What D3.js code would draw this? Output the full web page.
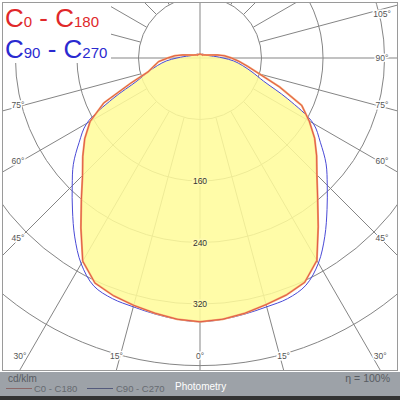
<!DOCTYPE html>
<html>
<head>
<meta charset="utf-8">
<script src="https://cdn.jsdelivr.net/npm/d3@7"></script>
<style>
  body { margin: 0; background: #fff; }
  svg { display: block; font-family: "Liberation Sans", Arial, sans-serif; }
</style>
</head>
<body>
<svg id="chart" width="400" height="400"></svg>
<script>
// gamma angles (0 = nadir), cd/klm values per half plane
var angles = [0, 5, 10, 15, 20, 25, 30, 35, 40, 45, 50, 55, 60, 65, 70, 75, 80, 85, 90,
              95, 100, 105, 110, 115, 120, 125, 130, 135, 140, 145, 150, 155, 160, 165, 170, 175, 180];
var c0   = [343, 341, 337, 332, 328, 322, 304, 268, 238, 215, 198, 182, 164, 146, 110, 80, 63, 51, 41,
            32, 23, 15, 11, 9, 8, 7, 6, 6, 5, 5, 5, 5, 5, 5, 5, 5, 5];
var c180 = [343, 341, 337, 333, 329, 323, 305, 270, 240, 216, 199, 183, 165, 138, 96, 70, 61, 54, 42,
            33, 23, 15, 11, 9, 8, 7, 6, 6, 5, 5, 5, 5, 5, 5, 5, 5, 5];
var c90  = [343, 341, 338, 335, 333, 326, 308, 283, 257, 234, 214, 191, 170, 126, 88, 70, 56, 44, 30,
            21, 15, 12, 10, 9, 8, 7, 7, 6, 6, 6, 6, 5, 5, 5, 5, 5, 5];
var c270 = [343, 341, 338, 335, 333, 327, 309, 284, 258, 235, 215, 192, 170, 125, 87, 70, 56, 44, 30,
            21, 15, 12, 10, 9, 8, 7, 7, 6, 6, 6, 6, 5, 5, 5, 5, 5, 5];

var rings = [80, 160, 240, 320, 400];
var ringLabels = [160, 240, 320];
var spokes = [0, 15, 30, 45, 60, 75, 90, 105, 120, 135, 150, 165, 180,
              195, 210, 225, 240, 255, 270, 285, 300, 315, 330, 345];
var rightLabels = [0, 15, 30, 45, 60, 75, 90, 105];
var leftLabels = [15, 30, 45, 60, 75];

var svg = d3.select("#chart"),
    cx = 200, cy = 58;

var r = d3.scaleLinear().domain([0, 400]).range([0, 307.6]);
function rad(d) { return d * Math.PI / 180; }

var defs = svg.append("defs");
defs.append("clipPath").attr("id", "frameClip")
  .append("rect").attr("x", 3).attr("y", 3).attr("width", 394).attr("height", 367);

svg.append("rect").attr("width", 400).attr("height", 400).attr("fill", "#fff");
svg.append("rect")
  .attr("x", 2.5).attr("y", 2.5).attr("width", 395).attr("height", 368)
  .attr("fill", "#fff").attr("stroke", "#9a9a9a");

var g = svg.append("g").attr("clip-path", "url(#frameClip)");
var pg = g.append("g").attr("transform", "translate(" + cx + "," + cy + ")");

// grid
pg.selectAll(".ring").data(rings).enter().append("circle")
  .attr("class", "ring")
  .attr("r", function(d) { return r(d); })
  .attr("fill", "none").attr("stroke", "#858585").attr("stroke-width", 1);

pg.selectAll(".spoke").data(spokes).enter().append("line")
  .attr("class", "spoke")
  .attr("x1", function(d) { return (d % 90 === 0 ? 0 : r(80)) * Math.sin(rad(d)); })
  .attr("y1", function(d) { return (d % 90 === 0 ? 0 : r(80)) * Math.cos(rad(d)); })
  .attr("x2", function(d) { return r(600) * Math.sin(rad(d)); })
  .attr("y2", function(d) { return r(600) * Math.cos(rad(d)); })
  .attr("stroke", "#858585").attr("stroke-width", 1);

// outlines
function outline(right, left) {
  var a = angles.map(function(d, i) { return [Math.PI - rad(d), r(right[i])]; });
  var b = angles.map(function(d, i) { return [rad(d) - Math.PI, r(left[i])]; }).reverse();
  return a.concat(b.slice(1, -1));
}
var redLine = d3.lineRadial().angle(function(d) { return d[0]; }).radius(function(d) { return d[1]; })
  .curve(d3.curveLinearClosed);
var blueLine = d3.lineRadial().angle(function(d) { return d[0]; }).radius(function(d) { return d[1]; })
  .curve(d3.curveCatmullRomClosed);

var redPts = outline(c0, c180),
    bluePts = outline(c90, c270);

defs.append("clipPath").attr("id", "blueClip")
  .append("path").attr("d", blueLine(bluePts));

pg.append("path")
  .attr("d", redLine(redPts))
  .attr("fill", "#fffb9a").attr("fill-opacity", 0.86)
  .attr("clip-path", "url(#blueClip)");

pg.append("path").attr("d", blueLine(bluePts))
  .attr("fill", "none").attr("stroke", "#4a4ad6").attr("stroke-width", 1);
pg.append("path").attr("d", redLine(redPts))
  .attr("fill", "none").attr("stroke", "#f3a56a").attr("stroke-width", 2);
pg.append("path").attr("d", redLine(redPts))
  .attr("fill", "none").attr("stroke", "#d83a3a").attr("stroke-width", 0.7);

// intensity labels
pg.selectAll(".rlab").data(ringLabels).enter().append("text")
  .attr("x", 0).attr("y", function(d) { return r(d); })
  .attr("text-anchor", "middle").attr("dominant-baseline", "central")
  .attr("font-size", 8.5).attr("fill", "#333")
  .attr("stroke", "#fffbb0").attr("stroke-width", 3).attr("paint-order", "stroke")
  .text(function(d) { return d; });

// angle labels
function labelPos(d, s) {
  var sn = Math.sin(rad(d)), cs = Math.cos(rad(d));
  if (sn > 0) {
    var y = cy + 182 * cs / sn;
    if (y <= 356) return [cx + s * 182, Math.max(y - (d < 90 ? 2 : 0), 14)];
  }
  var x = 312 * sn / cs;
  return [cx + s * Math.min(x, 182), 356];
}
var angLabels = rightLabels.map(function(d) { return {a: d, s: 1}; })
  .concat(leftLabels.map(function(d) { return {a: d, s: -1}; }));
svg.selectAll(".alab").data(angLabels).enter().append("text")
  .attr("x", function(d) { return labelPos(d.a, d.s)[0]; })
  .attr("y", function(d) { return labelPos(d.a, d.s)[1]; })
  .attr("text-anchor", "middle").attr("dominant-baseline", "central")
  .attr("font-size", 8.5).attr("fill", "#555")
  .attr("stroke", "#fff").attr("stroke-width", 3).attr("paint-order", "stroke")
  .text(function(d) { return d.a + "°"; });

// legend top left
svg.append("rect").attr("x", 3).attr("y", 3).attr("width", 108).attr("height", 60).attr("fill", "#fff");
var t1 = svg.append("text").attr("x", 5).attr("y", 27).attr("fill", "#e0282a").attr("font-size", 26);
t1.append("tspan").text("C");
t1.append("tspan").attr("font-size", 15).text("0");
t1.append("tspan").text(" - C");
t1.append("tspan").attr("font-size", 15).text("180");
var t2 = svg.append("text").attr("x", 5).attr("y", 58).attr("fill", "#2a2ad0").attr("font-size", 26);
t2.append("tspan").text("C");
t2.append("tspan").attr("font-size", 15).text("90");
t2.append("tspan").text(" - C");
t2.append("tspan").attr("font-size", 15).text("270");

// footer
svg.append("rect").attr("x", 0).attr("y", 372).attr("width", 400).attr("height", 24).attr("fill", "#9da2a8");
svg.append("rect").attr("x", 0).attr("y", 396).attr("width", 400).attr("height", 4).attr("fill", "#333");
svg.append("text").attr("x", 8).attr("y", 382).attr("font-size", 10).attr("fill", "#585c62").text("cd/klm");
svg.append("text").attr("x", 390).attr("y", 382).attr("text-anchor", "end")
  .attr("font-size", 10.5).attr("fill", "#585c62").text("η = 100%");
svg.append("line").attr("x1", 6).attr("x2", 32).attr("y1", 388.5).attr("y2", 388.5)
  .attr("stroke", "#8c6868").attr("stroke-width", 1);
svg.append("text").attr("x", 34).attr("y", 392).attr("font-size", 9.5).attr("fill", "#666a70").text("C0 - C180");
svg.append("line").attr("x1", 87).attr("x2", 113).attr("y1", 388.5).attr("y2", 388.5)
  .attr("stroke", "#545a7c").attr("stroke-width", 1);
svg.append("text").attr("x", 116).attr("y", 392).attr("font-size", 9.5).attr("fill", "#666a70").text("C90 - C270");
svg.append("text").attr("x", 175).attr("y", 390).attr("font-size", 10).attr("fill", "#fff").text("Photometry");
</script>
</body>
</html>
